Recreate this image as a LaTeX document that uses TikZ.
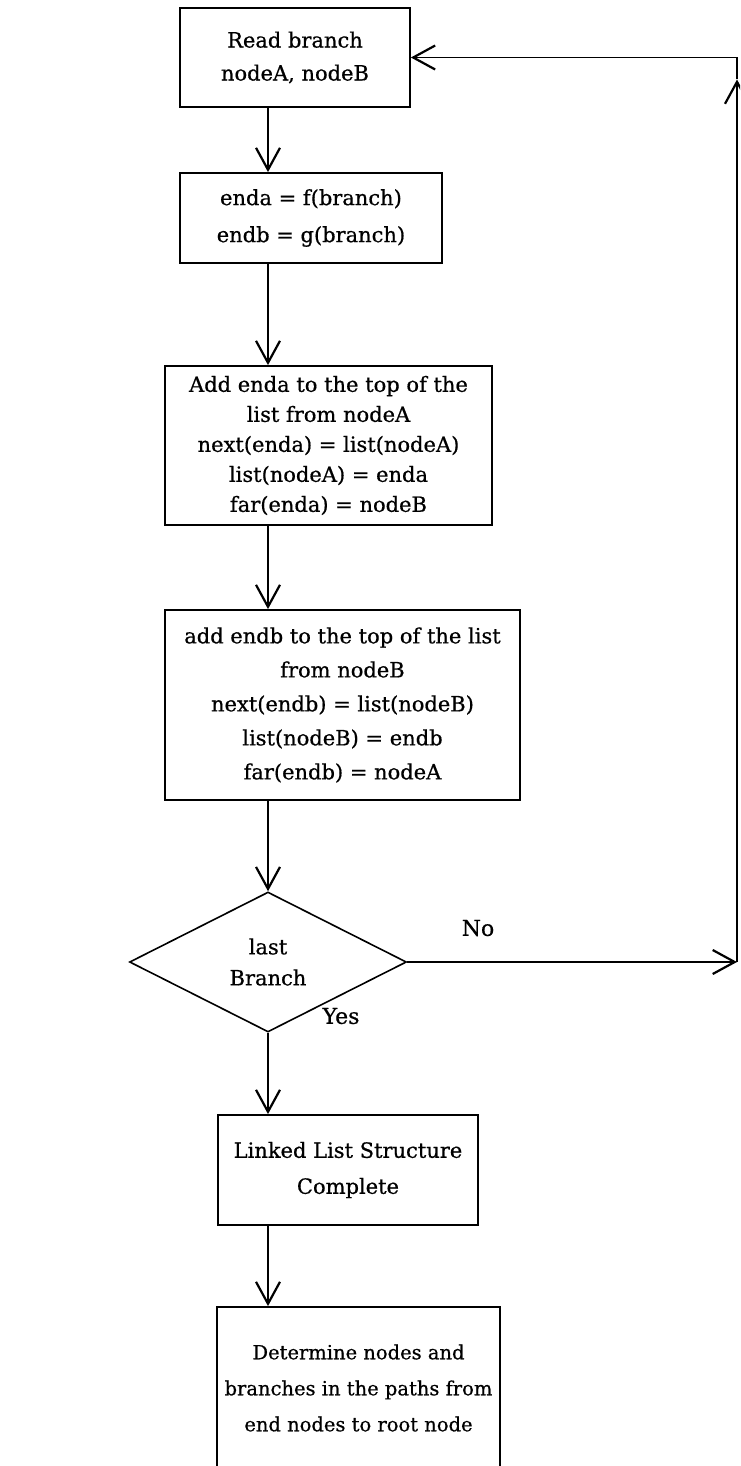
\documentclass[tikz,border=0pt]{standalone}
\usepackage{fontspec}
\setmainfont{DejaVu Serif}[FakeBold=0.6]
\usetikzlibrary{arrows.meta,shapes.geometric,calc}
\begin{document}
\begin{tikzpicture}[x=1pt,y=-1pt,
  bx/.style={draw,line width=1.8pt,align=center,inner sep=0pt},
  fz/.style={font=\fontsize{21}{#1}\selectfont},
  fs/.style={font=\fontsize{19.5}{#1}\selectfont},
  arr/.style={line width=1.5pt,-{Straight Barb[length=22pt,width=24pt,line width=2.2pt]}},
  ln/.style={line width=1.5pt},
  lbl/.style={font=\fontsize{22}{26}\selectfont,inner sep=0pt}]
\useasboundingbox (0,0) rectangle (740,1466);
\fill[white] (0,0) rectangle (740,1466);
\clip (0,0) rectangle (740,1466);
\coordinate (ax) at (268,0);
\coordinate (rx) at (737,0);
\node[bx,fz=33,minimum width=230,minimum height=99] (b1) at (295,57.5) {Read branch\\nodeA, nodeB};
\node[bx,fz=37,minimum width=262,minimum height=90] (b2) at (311,218) {enda = f(branch)\\endb = g(branch)};
\node[bx,fz=30,minimum width=327,minimum height=159] (b3) at (328.5,445.5) {Add enda to the top of the\\list from nodeA\\next(enda) = list(nodeA)\\list(nodeA) = enda\\far(enda) = nodeB};
\node[bx,fz=34,minimum width=355,minimum height=190] (b4) at (342.5,705) {add endb to the top of the list\\from nodeB\\next(endb) = list(nodeB)\\list(nodeB) = endb\\far(endb) = nodeA};
\node[draw,diamond,line width=1.6pt,inner sep=0pt,minimum width=277,minimum height=140,align=center,fz=31] (d) at (268,962) {last\\Branch};
\node[bx,fz=36,minimum width=260,minimum height=110] (b5) at (348,1170) {Linked List Structure\\Complete};
\node[bx,fs=36,minimum width=283,minimum height=162] (b6) at (358.5,1388) {Determine nodes and\\branches in the paths from\\end nodes to root node};
\node[lbl] (no) at (478,928) {No};
\node[lbl] (yes) at (341,1016) {Yes};
\draw[arr] (b1.south -| ax) -- (b2.north -| ax);
\draw[arr] (b2.south -| ax) -- (b3.north -| ax);
\draw[arr] (b3.south -| ax) -- (b4.north -| ax);
\draw[arr] (b4.south -| ax) -- (d.north);
\draw[arr] (d.south) -- (b5.north -| ax);
\draw[arr] (b5.south -| ax) -- (b6.north -| ax);
\coordinate (r1) at (d.east -| rx);
\coordinate (r2) at (b1.east -| rx);
\coordinate (r2b) at ($(r2)+(0,22)$);
\draw[arr] (d.east) -- (r1);
\draw[arr] (r1) -- (r2b);
\draw[ln] (r2b) -- (r2);
\draw[arr] (r2) -- (b1.east);
\end{tikzpicture}
\end{document}
